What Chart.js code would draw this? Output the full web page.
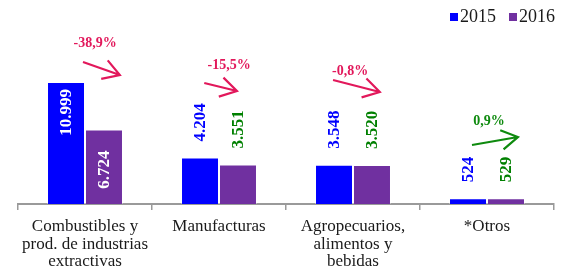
<!DOCTYPE html>
<html><head><meta charset="utf-8">
<script src="https://cdn.jsdelivr.net/npm/chart.js@4"></script>
<style>html,body{margin:0;padding:0;background:#fff;} #wrap{width:563px;height:272px;}</style>
</head><body><div id="wrap"><canvas id="c" width="563" height="272"></canvas></div>
<script>
const categories = [['Combustibles y','prod. de industrias','extractivas'], ['Manufacturas'], ['Agropecuarios,','alimentos y','bebidas'], ['*Otros']];
const seriesNames = ['2015', '2016'];
const values2015 = [10999, 4204, 3548, 524];
const values2016 = [6724, 3551, 3520, 529];
const changeLabels = ['-38,9%', '-15,5%', '-0,8%', '0,9%'];
// annotation anchors: [category offset, value]
const arrowFrom = [[-0.015, 12804], [-0.11, 10911], [-0.149, 11181], [-0.112, 5320]];
const arrowTo = [[0.26, 11632], [0.134, 10189], [0.20, 10099], [0.231, 6041]];
const changeLabelPos = [[0.075, 14517], [0.075, 12534], [-0.022, 11993], [0.015, 7484]];
const yMax = 15150;

const SERIF = "'Liberation Serif', 'Times New Roman', serif";
const fmt = v => String(v).replace(/\B(?=(\d{3})+(?!\d))/g, '.');

const valueLabels = {
  id: 'valueLabels',
  afterDatasetsDraw(chart) {
    const ctx = chart.ctx;
    const outsideColors = ['#0000FF', '#008000'];
    const insideOffset = [7, 21];
    ctx.save();
    ctx.font = 'bold 17px ' + SERIF;
    ctx.textBaseline = 'middle';
    chart.data.datasets.forEach((ds, di) => {
      const meta = chart.getDatasetMeta(di);
      meta.data.forEach((bar, i) => {
        const txt = fmt(ds.data[i]);
        const h = bar.base - bar.y;
        ctx.save();
        if (h > 60) {
          ctx.translate(bar.x + 1, bar.y + insideOffset[di]);
          ctx.rotate(-Math.PI / 2);
          ctx.fillStyle = '#FFFFFF';
          ctx.textAlign = 'right';
        } else {
          ctx.translate(bar.x + 1, bar.y - 16);
          ctx.rotate(-Math.PI / 2);
          ctx.fillStyle = outsideColors[di];
          ctx.textAlign = 'left';
        }
        ctx.fillText(txt, 0, 0);
        ctx.restore();
      });
    });
    ctx.restore();
  }
};

const changeArrows = {
  id: 'changeArrows',
  afterDatasetsDraw(chart) {
    const ctx = chart.ctx;
    const xs = chart.scales.x, ys = chart.scales.y;
    const w = xs.getPixelForValue(1) - xs.getPixelForValue(0);
    const px = (i, f) => xs.getPixelForValue(i) + f * w;
    ctx.save();
    changeLabels.forEach((lab, i) => {
      const col = lab.trim().startsWith('-') ? '#E2185B' : '#0E8A0E';
      const x1 = px(i, arrowFrom[i][0]), y1 = ys.getPixelForValue(arrowFrom[i][1]);
      const x2 = px(i, arrowTo[i][0]), y2 = ys.getPixelForValue(arrowTo[i][1]);
      ctx.strokeStyle = col;
      ctx.lineWidth = 2.2;
      ctx.lineCap = 'butt';
      ctx.beginPath();
      ctx.moveTo(x1, y1); ctx.lineTo(x2, y2);
      const a = Math.atan2(y1 - y2, x1 - x2);
      const L = 19, da = 0.54;
      ctx.moveTo(x2 + L * Math.cos(a + da), y2 + L * Math.sin(a + da));
      ctx.lineTo(x2, y2);
      ctx.lineTo(x2 + L * Math.cos(a - da), y2 + L * Math.sin(a - da));
      ctx.stroke();
      ctx.fillStyle = col;
      ctx.font = 'bold 14px ' + SERIF;
      ctx.textAlign = 'center';
      ctx.textBaseline = 'middle';
      ctx.fillText(lab, px(i, changeLabelPos[i][0]), ys.getPixelForValue(changeLabelPos[i][1]));
    });
    ctx.restore();
  }
};

const customLegend = {
  id: 'customLegend',
  afterDraw(chart) {
    const ctx = chart.ctx;
    ctx.save();
    ctx.font = '18px ' + SERIF;
    ctx.textBaseline = 'middle';
    ctx.textAlign = 'left';
    const items = chart.data.datasets.map(d => ({ text: d.label, color: d.backgroundColor }));
    const box = 8, gap = 2, spacing = 13, cy = 17;
    let x = chart.width - 8;
    for (let k = items.length - 1; k >= 0; k--) {
      const tw = ctx.measureText(items[k].text).width;
      x -= tw;
      ctx.fillStyle = '#1a1a1a';
      ctx.fillText(items[k].text, x, cy);
      x -= gap + box;
      ctx.fillStyle = items[k].color;
      ctx.fillRect(x, cy - 4, box, box);
      x -= spacing;
    }
    ctx.restore();
  }
};

new Chart(document.getElementById('c'), {
  type: 'bar',
  data: {
    labels: categories,
    datasets: [
      { label: seriesNames[0], data: values2015, backgroundColor: '#0000FF', borderColor: 'rgba(255,255,255,0.35)', borderWidth: 1 },
      { label: seriesNames[1], data: values2016, backgroundColor: '#7030A0', borderColor: 'rgba(255,255,255,0.35)', borderWidth: 1 }
    ]
  },
  options: {
    responsive: false,
    devicePixelRatio: 1,
    animation: false,
    layout: { padding: { left: 18, right: 9, top: 36, bottom: 0 } },
    datasets: { bar: { categoryPercentage: 0.567, barPercentage: 1.0 } },
    plugins: {
      legend: { display: false },
      tooltip: { enabled: false }
    },
    scales: {
      x: {
        grid: { offset: true, drawOnChartArea: false, drawTicks: true, tickLength: 6, color: '#9a9a9a', lineWidth: 1.5 },
        border: { display: true, color: '#9a9a9a', width: 2 },
        ticks: { color: '#1a1a1a', font: { family: SERIF, size: 17, lineHeight: 1.03 }, padding: 8, autoSkip: false, maxRotation: 0 },
        afterFit: (axis) => { axis.height = 68; }
      },
      y: { display: false, min: 0, max: yMax }
    }
  },
  plugins: [valueLabels, changeArrows, customLegend]
});
</script>
</body></html>
